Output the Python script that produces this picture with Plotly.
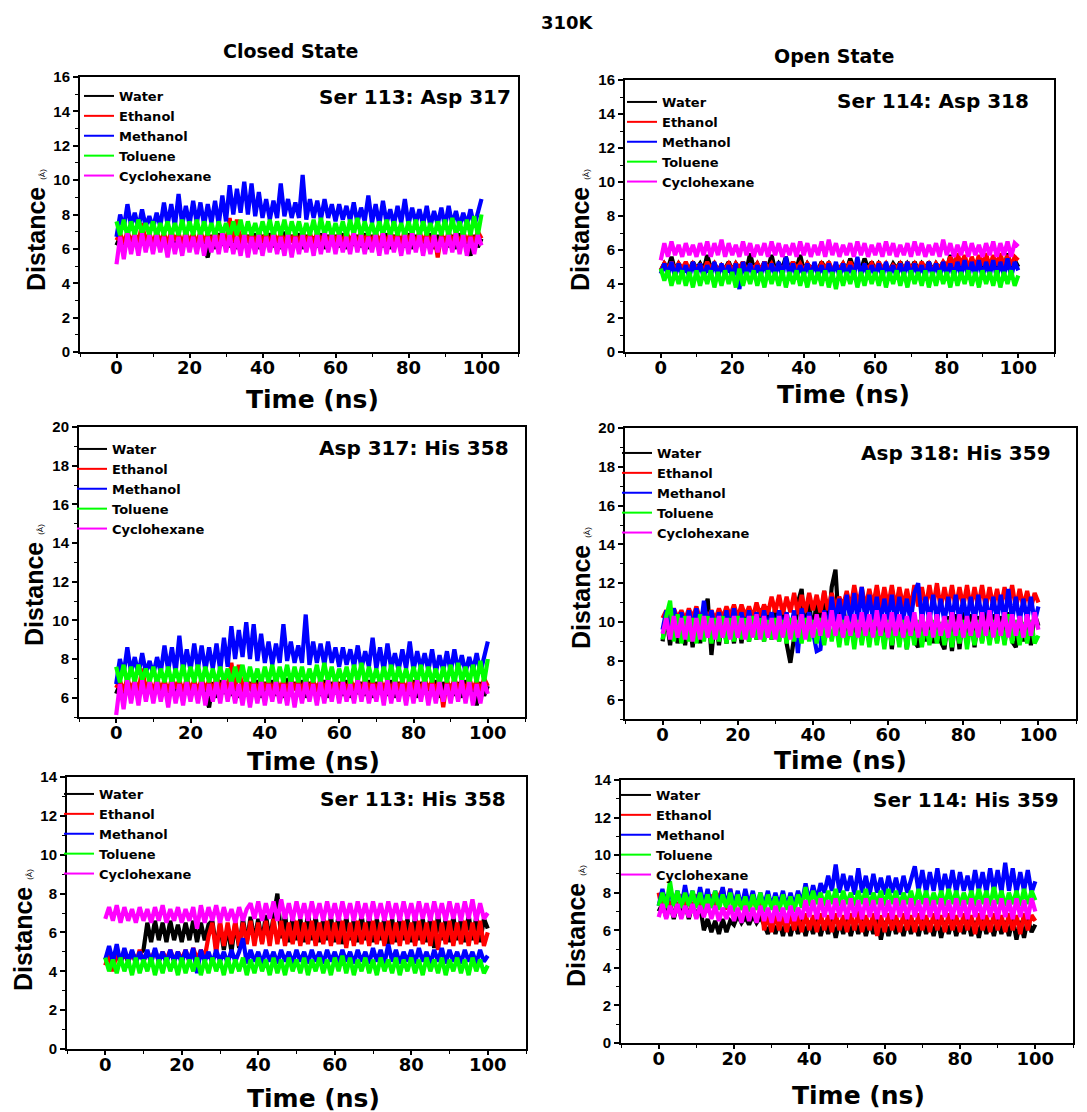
import plotly.graph_objects as go

# ---------------- data (distances in Angstrom, sampled every 1 ns) ----------------
time_ns = list(range(101))
solvents = ["Water", "Ethanol", "Methanol", "Toluene", "Cyclohexane"]

# Panel: Closed state, Ser 113 : Asp 317
p1_water = [
6.2,6.7,6.0,6.8,6.1,6.7,6.0,6.8,6.2,6.7,
6.1,6.9,6.3,6.8,6.0,6.9,6.2,6.8,6.1,6.7,
6.0,6.8,6.2,6.9,6.1,5.5,6.8,6.0,6.9,6.2,
6.8,6.1,6.9,6.0,6.7,6.2,6.8,6.1,6.9,6.0,
6.8,6.2,6.9,6.1,6.7,6.0,7.0,6.2,6.8,6.1,
6.9,6.0,6.8,6.2,6.7,6.1,6.9,6.0,6.8,6.2,
6.8,6.1,6.9,6.0,6.7,6.2,6.8,6.1,6.9,6.0,
6.8,6.2,6.7,6.1,6.9,6.0,6.8,6.2,6.7,6.1,
6.9,6.0,6.8,6.2,6.7,6.1,6.9,6.0,6.8,6.2,
6.7,6.1,6.8,6.0,6.9,6.2,6.7,5.6,6.8,6.1,
6.6]
p1_ethanol = [
6.5,6.9,6.3,7.0,6.4,6.9,6.3,7.5,6.4,6.9,
6.3,7.0,6.4,6.9,6.3,7.0,6.5,6.9,6.3,7.0,
6.4,6.9,6.3,7.0,6.4,6.9,6.3,7.1,6.4,6.9,
6.3,7.8,6.4,7.7,6.3,7.0,6.4,6.9,6.3,7.0,
6.4,6.9,6.3,7.0,6.4,6.9,6.3,7.0,6.4,6.9,
6.3,7.0,6.4,6.9,6.3,7.0,6.4,6.9,6.3,7.0,
6.4,6.9,6.3,7.0,6.4,6.9,6.3,7.0,6.4,6.9,
6.3,7.0,6.4,6.9,6.3,7.0,6.4,6.9,6.3,7.1,
6.4,6.9,6.3,7.0,6.4,6.9,6.3,7.0,5.5,6.9,
6.3,7.0,6.4,6.9,6.3,7.0,6.4,6.9,6.3,7.0,
6.6]
p1_methanol = [
6.7,8.0,7.2,8.6,7.3,8.1,7.2,8.3,7.3,7.9,
7.2,8.1,7.3,8.7,7.4,8.6,7.3,9.2,7.4,8.5,
7.4,8.8,7.5,8.7,7.4,8.6,7.5,8.8,7.4,9.1,
7.6,9.7,8.0,9.5,8.1,9.9,8.0,9.8,7.9,9.3,
7.8,8.9,7.7,8.8,7.8,9.8,7.9,8.9,7.8,8.7,
7.8,10.3,7.7,8.9,7.8,8.8,7.7,8.9,7.8,8.6,
7.6,8.6,7.7,8.5,7.6,8.7,7.5,8.4,7.6,9.1,
7.5,8.6,7.4,8.8,7.5,8.3,7.4,8.5,7.5,8.9,
7.4,8.4,7.5,8.3,7.4,8.5,7.3,8.2,7.4,8.4,
7.3,8.5,7.4,8.2,7.3,8.1,7.4,8.3,7.3,8.2,
8.9]
p1_toluene = [
7.6,6.8,7.7,6.7,7.6,6.8,7.7,6.9,7.5,6.8,
7.6,6.7,7.5,6.8,7.6,6.7,7.5,6.8,7.7,6.7,
7.6,6.8,7.7,6.7,7.6,6.8,7.5,6.7,7.6,6.8,
7.5,6.7,7.6,6.8,7.7,6.7,7.6,6.8,7.5,6.7,
7.6,6.8,7.7,6.7,7.6,6.8,7.7,6.7,7.6,6.8,
7.6,6.7,7.5,6.8,7.7,6.7,7.8,6.8,7.6,6.7,
7.5,6.8,7.6,6.7,7.7,6.8,7.8,6.7,7.6,6.8,
7.5,6.7,7.6,6.8,7.7,6.7,7.6,6.8,7.5,6.7,
7.6,6.8,7.7,6.7,7.6,6.8,7.5,6.7,7.6,6.8,
7.7,6.7,7.8,6.8,7.6,6.7,7.7,6.8,7.9,6.8,
8.0]
p1_cyclohexane = [
5.1,6.7,5.4,6.9,5.7,6.8,5.6,6.9,5.8,6.8,
5.7,6.8,5.8,6.7,5.5,6.8,5.7,6.7,5.6,6.8,
5.8,6.7,5.7,6.8,5.6,6.7,5.8,6.8,5.7,6.9,
5.8,6.8,5.7,6.7,5.6,6.8,5.5,6.7,5.7,6.8,
5.6,6.7,5.8,6.8,5.7,6.7,5.6,6.8,5.5,6.7,
5.7,6.8,5.8,6.7,5.6,6.8,5.7,6.9,5.8,6.8,
5.7,6.8,5.8,6.7,5.7,6.9,5.8,6.8,5.7,6.7,
5.8,6.8,5.6,6.9,5.7,6.8,5.8,6.7,5.6,6.8,
5.7,6.9,5.8,6.8,5.6,6.7,5.7,6.8,5.8,6.7,
5.7,6.8,5.8,6.9,5.7,6.8,5.6,6.7,5.7,6.8,
6.2]

# Panel: Open state, Ser 114 : Asp 318
p2_water = [
4.8,5.2,4.9,5.6,4.8,5.2,4.9,5.1,4.8,5.3,
4.9,5.2,4.8,5.7,4.9,5.2,4.8,5.1,4.9,5.3,
4.8,5.2,4.9,5.3,4.8,5.8,4.9,5.2,4.8,5.3,
4.9,5.7,4.8,5.2,4.9,5.6,4.8,5.3,4.9,5.7,
4.8,5.2,4.9,5.1,4.8,5.3,4.9,5.2,4.8,5.1,
4.9,5.2,4.8,5.5,4.9,5.2,4.8,5.5,4.9,5.3,
4.8,5.2,4.9,5.1,4.8,5.2,4.9,5.3,4.8,5.2,
4.9,5.3,4.8,5.2,4.9,5.3,4.8,5.2,4.9,5.3,
4.8,5.7,4.9,5.3,4.8,5.2,4.9,5.4,4.8,5.3,
4.9,5.4,4.8,5.3,4.9,5.5,4.8,5.8,4.9,5.4,
5.0]
p2_ethanol = [
4.8,5.2,4.9,5.3,4.8,5.2,4.9,5.3,4.8,5.2,
4.9,5.1,4.8,5.3,4.9,5.2,4.8,5.1,4.9,5.2,
4.8,5.2,4.9,5.3,4.8,5.1,4.9,5.2,4.8,5.3,
4.9,5.2,4.8,5.1,4.9,5.2,4.8,5.3,4.9,5.2,
4.8,5.2,4.9,5.1,4.8,5.2,4.9,5.3,4.8,5.1,
4.9,5.2,4.8,5.3,4.9,5.2,4.8,5.1,4.9,5.2,
4.8,5.3,4.9,5.2,4.8,5.1,4.9,5.2,4.8,5.3,
4.9,5.2,4.8,5.3,4.9,5.2,4.8,5.2,4.9,5.3,
5.0,5.6,5.0,5.8,5.1,5.7,4.9,5.6,5.0,5.7,
5.1,5.8,5.0,5.7,5.1,5.8,5.0,5.7,5.1,5.6,
5.4]
p2_methanol = [
4.6,5.2,4.5,5.3,4.4,5.2,4.5,5.1,4.4,5.3,
4.5,5.2,4.4,5.1,4.5,5.3,4.4,5.2,4.5,5.1,
4.4,5.2,3.7,5.3,4.5,5.2,4.4,5.1,4.5,5.3,
4.4,5.2,4.5,5.3,4.4,5.6,4.5,5.2,4.4,5.1,
4.5,5.2,4.4,5.3,4.5,5.1,4.4,5.2,4.5,5.3,
4.4,5.2,4.5,5.1,4.4,5.6,4.5,5.2,4.4,5.1,
4.5,5.2,4.4,5.3,4.5,5.1,4.4,5.2,4.5,5.3,
4.4,5.2,4.5,5.1,4.4,5.3,4.5,5.2,4.4,5.3,
4.5,5.2,4.4,5.3,4.5,5.4,4.4,5.3,4.5,5.4,
4.4,5.3,4.5,5.4,4.4,5.3,4.5,5.5,4.4,5.3,
4.8]
p2_toluene = [
4.9,4.2,4.8,3.9,4.7,4.0,4.8,3.9,4.7,3.8,
4.8,3.9,4.7,4.0,4.8,3.8,4.7,3.9,4.8,4.0,
4.7,3.8,4.9,3.9,4.7,4.0,4.8,3.9,4.7,3.8,
4.8,4.0,4.7,3.9,4.8,3.8,4.7,4.0,4.8,3.9,
4.7,3.8,4.8,4.0,4.7,3.9,4.8,3.8,4.7,3.7,
4.8,3.9,4.7,4.0,4.8,3.8,4.7,3.9,4.8,4.0,
4.7,3.9,4.8,3.8,4.7,4.0,4.8,3.9,4.7,3.8,
4.8,4.0,4.7,3.9,4.8,3.8,4.7,3.9,4.8,4.0,
4.7,3.8,4.8,3.9,4.7,4.0,4.8,3.9,4.7,3.8,
4.8,4.0,4.7,3.9,4.8,3.8,4.7,4.0,4.8,3.9,
4.5]
p2_cyclohexane = [
5.4,6.4,5.6,6.5,5.7,6.3,5.6,6.4,5.7,6.3,
5.6,6.4,5.7,6.5,5.6,6.4,5.7,6.6,5.6,6.4,
5.7,6.3,5.6,6.5,5.7,6.4,5.6,6.3,5.7,6.4,
5.6,6.5,5.7,6.4,5.6,6.3,5.7,6.4,5.6,6.5,
5.7,6.4,5.6,6.3,5.7,6.5,5.6,6.6,5.7,6.4,
5.6,6.3,5.7,6.4,5.6,6.5,5.7,6.4,5.6,6.3,
5.7,6.4,5.6,6.5,5.7,6.4,5.6,6.3,5.7,6.4,
5.6,6.5,5.7,6.4,5.6,6.3,5.7,6.4,5.6,6.6,
5.7,6.4,5.6,6.3,5.7,6.5,5.6,6.4,5.7,6.3,
5.6,6.4,5.7,6.5,5.6,6.4,5.7,6.5,5.6,6.4,
6.2]

# Panel: Closed state, Asp 317 : His 358 (the picture shows the same traces as Ser 113 : Asp 317)
p3_water = p1_water
p3_ethanol = p1_ethanol
p3_methanol = p1_methanol
p3_toluene = p1_toluene
p3_cyclohexane = p1_cyclohexane

# Panel: Open state, Asp 318 : His 359
p4_water = [
9.0,10.3,8.8,10.4,8.9,10.2,8.8,10.3,8.7,10.4,
8.9,10.5,11.2,8.3,10.3,8.8,10.2,8.9,10.3,8.9,
10.4,8.9,10.5,9.0,10.6,9.1,10.7,9.0,10.8,9.1,
10.9,9.0,10.8,8.9,7.9,9.2,11.0,11.7,9.2,11.0,
9.3,11.2,9.4,11.6,9.5,11.8,12.7,9.5,11.0,9.3,
10.5,9.2,10.6,9.0,10.4,9.1,10.5,9.0,10.4,8.8,
10.5,8.6,10.4,8.9,10.3,8.6,10.5,9.0,8.7,10.4,
9.0,10.5,8.9,10.4,9.0,8.6,10.3,8.5,10.4,8.6,
10.5,8.9,10.4,8.7,10.3,9.0,10.5,8.9,10.4,9.0,
10.3,8.9,10.5,9.0,8.7,10.4,9.0,10.3,8.8,10.4,
9.8]
p4_ethanol = [
10.2,10.6,10.1,10.7,10.2,10.6,10.1,10.7,10.2,10.8,
10.1,10.7,10.2,10.6,10.1,10.7,10.2,10.8,10.3,10.9,
10.2,10.9,10.3,10.8,10.2,11.0,10.3,10.9,10.4,11.3,
10.5,11.4,10.4,11.3,10.5,11.5,10.4,11.4,10.5,11.5,
10.6,11.4,10.5,11.6,10.6,11.5,10.7,11.3,10.8,11.6,
10.7,11.9,10.8,11.8,10.7,11.7,10.8,11.9,10.7,11.8,
10.8,11.9,10.7,11.8,10.8,11.7,10.7,11.9,10.8,11.8,
10.7,11.9,10.8,12.0,10.7,11.8,10.8,11.9,10.7,11.8,
10.8,11.9,10.7,11.8,10.8,11.9,10.7,11.8,10.8,11.7,
10.7,11.8,10.8,11.9,10.7,11.7,10.8,11.6,10.7,11.5,
11.0]
p4_methanol = [
9.6,10.6,9.5,10.7,9.6,10.5,9.5,10.6,9.6,10.7,
9.5,11.1,9.6,10.6,9.5,10.5,9.6,10.6,9.5,10.7,
9.6,10.5,9.5,10.6,9.6,10.5,9.5,10.6,9.6,10.5,
9.5,10.6,9.6,10.5,9.5,10.6,8.4,10.7,9.6,10.5,
9.5,8.5,8.6,10.6,9.6,11.3,10.0,11.2,10.1,11.4,
10.0,11.5,9.9,11.8,10.0,11.4,10.1,11.3,10.0,11.2,
10.1,11.4,10.0,11.3,10.1,11.2,10.0,11.5,12.0,10.1,
11.3,10.0,11.4,10.1,11.2,10.0,11.3,10.1,11.4,10.0,
11.2,10.1,11.3,10.0,11.4,10.1,11.2,10.0,11.3,10.1,
11.4,10.0,11.7,10.1,11.3,10.0,11.2,10.1,11.3,10.0,
10.8]
p4_toluene = [
9.1,10.3,11.1,9.0,10.4,8.9,10.3,9.0,10.2,8.9,
10.4,9.0,10.3,8.9,10.2,9.0,10.3,8.9,10.2,9.0,
10.3,9.1,10.2,9.0,10.3,9.1,10.2,9.0,10.1,9.1,
10.2,9.0,10.1,8.9,10.2,9.0,10.1,8.9,10.2,9.0,
10.1,8.9,10.2,8.8,10.1,9.0,10.0,8.7,10.1,8.8,
10.0,8.6,10.1,8.8,10.0,8.7,10.1,8.8,10.0,8.6,
10.1,8.8,10.0,8.7,10.1,8.6,10.0,8.8,10.1,8.7,
10.0,8.8,10.1,8.9,10.0,8.8,10.1,8.7,10.0,8.9,
10.1,8.6,10.0,8.8,10.1,8.9,10.0,8.8,10.1,8.9,
10.0,8.8,10.4,8.9,10.1,8.8,10.0,8.9,10.1,8.9,
9.3]
p4_cyclohexane = [
9.4,10.2,9.1,10.3,9.2,10.2,9.1,10.3,9.0,10.2,
9.1,10.3,9.2,10.2,9.1,10.3,9.2,10.2,9.1,10.3,
9.2,10.2,9.1,10.3,9.2,10.4,9.1,10.3,9.2,10.2,
9.1,10.3,9.2,10.4,9.1,10.3,9.2,10.4,9.1,10.3,
9.2,10.4,9.3,10.5,9.2,10.6,9.3,10.4,9.2,10.3,
9.3,10.4,9.2,10.5,9.3,10.4,9.2,10.6,9.3,10.4,
9.2,10.5,9.3,10.4,9.2,10.3,9.3,10.5,9.2,10.4,
9.3,10.5,9.2,10.4,9.3,10.3,9.2,10.5,9.3,10.4,
9.2,10.3,9.3,10.4,9.2,10.5,9.3,10.6,9.2,10.4,
9.3,10.5,9.2,10.4,9.3,10.3,9.2,10.4,9.3,10.5,
9.6]

# Panel: Closed state, Ser 113 : His 358
p5_water = [
4.6,5.0,4.5,5.0,4.6,4.9,4.5,5.0,4.6,4.9,
5.1,6.5,5.5,6.6,5.6,6.5,5.5,6.6,5.6,6.4,
5.5,6.5,5.6,6.6,5.5,6.5,5.6,6.4,6.6,5.2,
6.4,5.1,6.3,5.0,6.5,5.2,6.7,5.5,6.8,5.6,
6.7,5.5,6.9,5.6,6.8,8.0,5.7,6.9,5.5,6.8,
5.6,6.7,5.5,7.0,5.6,6.8,5.5,6.7,5.6,6.8,
5.5,6.9,5.4,6.8,5.6,6.7,5.5,6.9,5.6,6.8,
5.5,6.7,5.6,6.8,5.4,6.7,5.5,6.8,5.6,6.7,
5.5,6.8,5.6,6.7,5.5,6.8,5.2,6.9,5.6,6.7,
5.5,6.8,5.6,6.7,5.5,6.9,5.6,6.8,5.5,6.7,
6.2]
p5_ethanol = [
4.3,4.9,4.0,5.0,4.4,5.1,4.5,5.0,4.4,5.1,
4.5,5.0,4.6,5.1,4.5,5.0,4.6,5.1,4.5,5.0,
4.6,5.1,4.5,5.2,4.6,5.1,4.7,5.8,6.5,4.9,
6.6,5.3,6.5,5.4,6.6,5.3,6.5,5.4,6.6,5.3,
6.5,5.4,6.6,5.3,6.7,5.4,6.6,5.3,6.5,5.4,
6.6,5.3,6.5,5.4,6.6,5.3,6.5,5.4,6.6,5.3,
6.5,5.4,6.6,5.2,6.5,5.3,6.6,5.4,6.5,5.3,
6.6,5.4,6.5,5.3,6.6,5.4,6.5,5.3,6.6,5.4,
6.5,5.3,6.6,5.4,6.5,5.3,6.6,5.1,6.5,5.4,
6.6,5.3,6.5,5.4,6.6,5.3,6.5,5.4,6.6,5.3,
6.0]
p5_methanol = [
4.6,5.3,4.5,5.4,4.4,5.2,4.5,5.1,4.4,5.0,
4.5,5.1,4.4,5.2,4.5,5.0,4.4,5.1,4.5,5.0,
4.4,5.1,4.5,5.2,3.9,5.1,4.5,5.0,4.4,5.1,
4.5,5.0,4.4,5.1,4.5,5.0,5.7,4.4,5.1,4.5,
5.0,4.4,5.1,4.5,5.0,4.4,5.1,4.5,5.0,4.4,
5.1,4.5,5.0,4.4,5.1,4.5,5.0,4.4,5.1,4.5,
5.0,4.4,5.1,4.5,5.0,4.4,5.1,4.5,5.0,4.4,
5.2,4.5,5.1,4.4,5.4,4.5,5.1,4.4,5.0,4.5,
5.1,4.4,5.2,4.5,5.0,4.4,5.1,4.5,5.2,4.4,
5.1,4.5,5.0,4.4,5.1,4.5,5.0,4.4,5.1,4.5,
4.8]
p5_toluene = [
4.7,4.0,4.6,3.9,4.7,4.0,4.6,3.8,4.7,3.9,
4.6,4.0,4.7,3.8,4.6,3.9,4.7,4.0,4.6,3.8,
4.7,3.9,4.6,4.0,4.7,3.8,4.6,3.9,4.7,4.0,
4.6,3.8,4.7,3.9,4.6,4.0,4.7,3.8,4.6,3.9,
4.7,4.0,4.6,3.8,4.7,3.9,4.6,3.8,4.7,4.0,
4.6,3.9,4.7,3.8,4.6,4.0,4.7,3.9,4.6,3.8,
4.7,4.0,4.8,3.9,4.7,3.8,4.6,4.0,4.7,3.9,
4.6,3.8,4.7,4.0,4.6,3.9,4.7,3.8,4.6,4.0,
4.7,3.9,4.6,3.8,4.7,4.0,4.6,3.9,4.7,3.8,
4.6,4.0,4.7,3.9,4.6,3.8,4.7,4.0,4.6,3.9,
4.3]
p5_cyclohexane = [
6.7,7.3,6.6,7.4,6.5,7.3,6.6,7.2,6.5,7.3,
6.6,7.2,6.5,7.3,6.6,7.4,6.5,7.2,6.6,7.3,
6.5,7.2,6.6,7.3,6.2,7.4,6.5,7.3,6.6,7.4,
6.5,7.3,6.6,7.2,6.5,7.3,6.6,7.2,7.5,6.7,
7.6,6.6,7.5,6.7,7.6,6.6,7.7,6.7,7.5,6.6,
7.6,6.7,7.5,6.6,7.6,6.7,7.5,6.6,7.6,6.7,
7.5,6.6,7.6,6.7,7.5,6.6,7.6,6.7,7.5,6.6,
7.6,6.7,7.5,6.6,7.6,6.7,7.5,6.6,7.6,6.7,
7.5,6.6,7.6,6.7,7.5,6.6,7.6,6.7,7.5,6.6,
7.6,6.7,7.5,6.6,7.6,6.7,7.7,6.6,7.5,6.7,
7.0]

# Panel: Open state, Ser 114 : His 359
p6_water = [
7.0,7.4,6.7,7.5,6.6,7.4,6.7,7.5,6.6,7.4,
6.7,7.3,6.0,6.6,5.9,6.5,5.8,6.6,5.9,6.5,
6.3,6.8,6.4,6.7,6.3,6.8,6.4,6.7,6.3,5.8,
6.6,5.8,6.5,5.7,6.6,5.7,6.5,5.8,6.6,5.7,
6.5,5.8,6.6,5.7,6.5,5.8,6.6,5.6,6.5,5.8,
6.6,5.7,6.5,5.8,6.6,5.7,6.5,5.8,6.6,5.5,
6.5,5.7,6.6,5.8,6.5,5.7,6.6,5.8,6.5,5.7,
6.6,5.8,6.5,5.7,6.6,5.6,6.5,5.8,6.6,5.7,
6.5,5.8,6.6,5.7,6.5,5.6,6.6,5.8,6.5,5.7,
6.6,5.8,6.5,5.7,6.6,5.5,6.5,5.6,6.6,5.9,
6.3]
p6_ethanol = [
8.0,7.0,7.9,7.1,7.8,7.0,7.9,7.1,7.8,7.0,
7.9,7.1,7.8,7.0,7.9,7.1,7.8,8.2,7.1,8.2,
7.0,7.9,7.1,7.8,7.0,7.9,7.1,7.8,6.0,6.8,
5.9,6.9,6.0,6.8,5.9,6.9,6.0,6.8,5.9,6.9,
6.0,6.8,5.9,6.9,6.0,6.8,5.9,6.9,6.0,6.8,
5.9,6.9,6.0,7.0,5.9,6.8,6.0,6.9,5.7,6.8,
5.9,6.9,6.0,6.8,5.9,6.9,6.0,6.8,5.9,6.9,
6.0,6.8,5.9,6.9,6.0,6.8,5.9,6.9,6.0,6.8,
5.9,6.9,6.0,6.8,5.8,6.9,6.0,6.8,5.9,6.9,
6.0,6.8,5.9,6.9,6.0,6.8,5.8,6.9,6.0,6.8,
6.5]
p6_methanol = [
7.3,8.2,7.2,8.3,7.3,8.1,7.2,8.4,7.3,8.1,
7.2,8.3,7.3,8.2,7.2,8.1,7.3,8.3,7.2,8.2,
7.3,8.1,7.2,8.2,7.3,8.1,7.2,8.0,7.3,8.1,
7.2,8.0,7.3,8.1,7.2,8.0,7.3,8.1,7.4,8.5,
7.5,8.4,7.6,8.5,8.0,8.9,8.1,9.5,8.0,9.0,
8.1,8.9,7.9,9.3,8.0,8.9,7.9,9.0,8.0,8.8,
7.9,8.9,8.0,8.8,7.9,8.9,8.0,8.8,9.4,8.1,
9.2,8.0,9.1,8.1,9.3,8.0,9.0,8.1,9.2,8.0,
9.1,8.1,8.9,8.0,9.2,8.1,9.1,8.0,9.3,8.1,
9.2,8.0,9.6,8.1,9.3,8.0,9.1,8.1,9.2,8.0,
8.6]
p6_toluene = [
7.3,8.0,7.2,8.6,7.3,8.1,7.2,8.0,7.3,8.1,
7.2,8.0,7.1,7.9,7.2,8.1,7.1,7.9,7.2,8.0,
7.0,7.9,7.1,7.8,7.0,7.9,7.1,8.0,7.0,7.9,
7.1,7.8,7.0,7.9,7.1,7.8,7.0,7.9,7.2,8.3,
7.3,8.1,7.4,8.0,7.3,8.1,7.4,8.2,7.3,8.1,
7.4,8.0,7.3,8.1,7.4,8.2,7.3,8.0,7.4,8.1,
7.3,8.2,7.4,8.1,7.3,8.0,7.4,8.1,7.3,8.2,
7.4,8.1,7.3,8.0,7.4,8.1,7.3,8.2,7.4,8.1,
7.3,8.0,7.4,8.1,7.3,8.2,7.4,8.1,7.3,8.3,
7.4,8.1,7.3,8.0,7.4,8.1,7.3,8.2,7.4,8.1,
7.6]
p6_cyclohexane = [
6.7,7.4,6.6,7.3,6.7,7.4,6.6,7.3,6.7,7.4,
6.6,7.3,6.7,7.4,6.6,7.3,6.5,7.2,6.6,7.3,
6.5,7.2,6.4,7.3,6.5,7.2,6.4,7.3,6.5,7.2,
6.4,7.3,6.5,7.2,6.4,7.3,6.5,7.2,6.6,7.6,
6.7,7.6,6.6,7.7,6.7,7.6,6.6,7.7,6.7,7.6,
6.6,7.7,6.7,7.6,6.6,7.7,6.7,7.6,6.6,7.7,
6.7,7.6,6.6,7.7,6.7,7.6,6.6,7.7,6.7,7.6,
6.6,7.7,6.7,7.6,6.6,7.7,6.7,7.6,6.6,7.7,
6.7,7.6,6.6,7.7,6.7,7.6,6.6,7.7,6.7,7.6,
6.6,7.7,6.7,7.6,6.6,7.7,6.7,7.6,6.6,7.7,
7.0]

pair_labels = ["Ser 113: Asp 317", "Ser 114: Asp 318",
               "Asp 317: His 358", "Asp 318: His 359",
               "Ser 113: His 358", "Ser 114: His 359"]
panel_data = [
    [p1_water, p1_ethanol, p1_methanol, p1_toluene, p1_cyclohexane],
    [p2_water, p2_ethanol, p2_methanol, p2_toluene, p2_cyclohexane],
    [p3_water, p3_ethanol, p3_methanol, p3_toluene, p3_cyclohexane],
    [p4_water, p4_ethanol, p4_methanol, p4_toluene, p4_cyclohexane],
    [p5_water, p5_ethanol, p5_methanol, p5_toluene, p5_cyclohexane],
    [p6_water, p6_ethanol, p6_methanol, p6_toluene, p6_cyclohexane],
]
y_ranges = [(0, 16), (0, 16), (5, 20), (5, 20), (0, 14), (0, 14)]

# ---------------- styling / layout ----------------
W, H = 1087, 1112
FONT = "Liberation Sans, Arial, sans-serif"
WIDE = "DejaVu Sans, Verdana, sans-serif"
colors = ["#000000", "#ff0000", "#0000ff", "#00ff00", "#ff00ff"]

# panel boxes in pixels: (left, right, top, bottom)
boxes = [(80, 518, 77, 352), (625, 1054, 80, 352),
         (79, 525, 427, 717), (625, 1076, 428, 719),
         (67, 526, 777, 1049), (621, 1073, 780, 1043)]
legend_pos = [(119, 81), (662, 87), (112, 434), (657, 438), (99, 779), (656, 780)]
label_pos = [(513, 97), (1031, 101), (511, 448), (1053, 453), (508, 799), (1061, 800)]
xtitle_pos = [(312, 399), (843, 394), (313, 761), (840, 760), (313, 1098), (858, 1095)]
ytitle_pos = [(36, 230), (580, 230), (34, 585), (581, 588), (23, 930), (576, 926)]

def px(x):
    return x / W

def py(y):
    return 1 - y / H

fig = go.Figure()
layout = dict(width=W, height=H, margin=dict(l=0, r=0, t=0, b=0, autoexpand=False),
              plot_bgcolor="white", paper_bgcolor="white",
              font=dict(family=FONT, color="black"))
annotations = []

for i in range(6):
    n = i + 1
    xa = "x" if n == 1 else f"x{n}"
    ya = "y" if n == 1 else f"y{n}"
    lg = "legend" if n == 1 else f"legend{n}"
    for name, vals, col in zip(solvents, panel_data[i], colors):
        fig.add_trace(go.Scatter(x=time_ns, y=vals, mode="lines", name=name,
                                 line=dict(color=col, width=4.2), showlegend=False,
                                 xaxis=xa, yaxis=ya))
    # legend-only entries (thin line keys, no data)
    for name, col in zip(solvents, colors):
        fig.add_trace(go.Scatter(x=[None], y=[None], mode="lines", name=name,
                                 line=dict(color=col, width=2), showlegend=True,
                                 xaxis=xa, yaxis=ya, legend=lg))
    l, r, t, b = boxes[i]
    layout[f"xaxis{n}"] = dict(
        domain=[px(l), px(r)], anchor=ya, range=[-10, 110], automargin=False,
        tickmode="linear", tick0=0, dtick=20, ticks="outside", ticklen=4,
        tickwidth=1.5, tickcolor="black", showline=True, linewidth=2,
        linecolor="black", mirror=True, showgrid=False, zeroline=False,
        ticklabelstandoff=-6,
        tickfont=dict(family=WIDE, size=18, weight="bold", color="black"),
        minor=dict(ticks="outside", ticklen=3, tickwidth=1.2, tickcolor="black",
                   tick0=0, dtick=10, showgrid=False))
    layout[f"yaxis{n}"] = dict(
        domain=[py(b), py(t)], anchor=xa, range=list(y_ranges[i]), automargin=False,
        tickmode="linear", tick0=0, dtick=2, ticks="outside", ticklen=5,
        tickwidth=1.5, tickcolor="black", showline=True, linewidth=2,
        linecolor="black", mirror=True, showgrid=False, zeroline=False,
        tickfont=dict(family=FONT, size=15, weight="bold", color="black"),
        minor=dict(ticks="outside", ticklen=3, tickwidth=1.2, tickcolor="black",
                   tick0=0, dtick=1, showgrid=False))
    lx, ly = legend_pos[i]
    layout[lg] = dict(x=px(lx - 40), y=py(ly), xanchor="left", yanchor="top",
                      bgcolor="rgba(0,0,0,0)", borderwidth=0, itemwidth=30,
                      tracegroupgap=0,
                      font=dict(family=WIDE, size=13, weight="bold", color="black"))
    ax_, ay_ = label_pos[i]
    annotations.append(dict(text=f"<b>{pair_labels[i]}</b>", x=px(ax_), y=py(ay_),
                            xref="paper", yref="paper", xanchor="right", yanchor="middle",
                            showarrow=False, font=dict(family=WIDE, size=20, color="black")))
    tx, ty = xtitle_pos[i]
    annotations.append(dict(text="<b>Time (ns)</b>", x=px(tx), y=py(ty),
                            xref="paper", yref="paper", xanchor="center", yanchor="middle",
                            showarrow=False, font=dict(family=WIDE, size=25, color="black")))
    dx, dy = ytitle_pos[i]
    annotations.append(dict(text="<b>Distance</b> <span style='font-size:8px'>(Å)</span>",
                            x=px(dx), y=py(dy), xref="paper", yref="paper",
                            xanchor="center", yanchor="middle", textangle=-90,
                            showarrow=False, font=dict(family=FONT, size=25, color="black")))

for txt, cx, cy, fs in [("310K", 567, 23, 18), ("Closed State", 290, 51, 19),
                        ("Open State", 834, 56, 19)]:
    annotations.append(dict(text=f"<b>{txt}</b>", x=px(cx), y=py(cy), xref="paper",
                            yref="paper", xanchor="center", yanchor="middle",
                            showarrow=False, font=dict(family=WIDE, size=fs, color="black")))
layout["annotations"] = annotations

fig.update_layout(**layout)
fig.write_html("out.html")
